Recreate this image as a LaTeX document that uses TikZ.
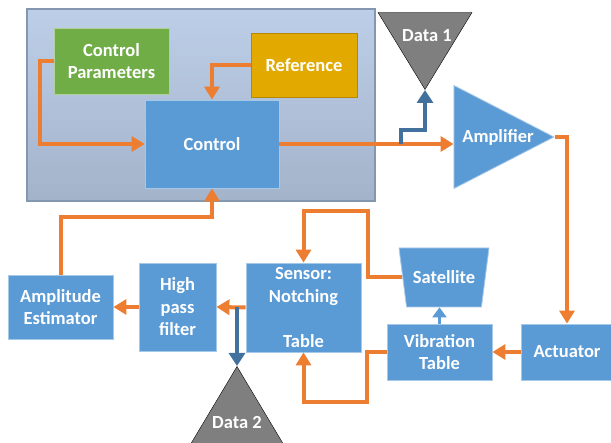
\documentclass[tikz,border=0pt]{standalone}
\usepackage{fontspec}
\setmainfont{Carlito}
\usepackage{tikz}
\usetikzlibrary{shapes.geometric}
\usetikzlibrary{arrows.meta}
\definecolor{boxblue}{HTML}{5B9BD5}
\definecolor{boxgreen}{HTML}{70AD47}
\definecolor{boxgold}{HTML}{E2AA00}
\definecolor{lineorange}{HTML}{ED7D31}
\definecolor{tapblue}{HTML}{41719C}
\definecolor{datagray}{HTML}{7F7F7F}
\definecolor{paneltop}{HTML}{BDCEE8}
\definecolor{panelbot}{HTML}{A3B3CA}
\definecolor{panelrim}{HTML}{8497B0}
\tikzstyle{blk}=[rectangle, draw=boxblue!55!white, line width=0.8pt, fill=boxblue, text=white, align=center, inner sep=0pt, font=\bfseries\fontsize{18.5}{22.5}\selectfont]
\tikzstyle{flow}=[draw=lineorange, line width=4pt, -{Triangle[length=13pt,width=15pt]}]
\tikzstyle{tap}=[draw=tapblue, line width=4pt, -{Triangle[length=13pt,width=16pt]}]
\tikzstyle{datatri}=[isosceles triangle, isosceles triangle stretches, draw=black, thin, fill=datagray, inner sep=0pt]
\tikzstyle{lbl}=[text=white, inner sep=0pt, font=\bfseries\fontsize{18.5}{22.5}\selectfont]

\begin{document}
\begin{tikzpicture}[x=1pt,y=-1pt]
    \useasboundingbox (0,0) rectangle (611,443);
    % Panel del controlador
    \node[draw=panelrim, line width=1.5pt, top color=paneltop, bottom color=panelbot, minimum width=348pt, minimum height=192pt, inner sep=0pt] (panel) at (201,105) {};
    % Bloques
    \node[blk, fill=boxgreen, draw=boxgreen!55!white, minimum width=115pt, minimum height=66pt] (cp) at (111.5,61) {Control\\Parameters};
    \node[blk, fill=boxgold, draw=boxgold!80!black, minimum width=106pt, minimum height=64pt] (ref) at (304,65) {Reference};
    \node[blk, minimum width=134pt, minimum height=88pt] (ctl) at (212,144) {Control};
    \node[isosceles triangle, isosceles triangle stretches, fill=boxblue, draw=boxblue!55!white, line width=0.8pt, minimum width=103pt, minimum height=100pt, inner sep=0pt, anchor=apex] (amp) at (555,137) {};
    \node[lbl] (amptxt) at (498,137) {Amplifier};
    \node[datatri, shape border rotate=270, minimum width=94pt, minimum height=77pt, anchor=apex] (d1) at (425,90) {};
    \node[lbl] (d1txt) at (427,36) {Data 1};
    \node[blk, minimum width=92pt, minimum height=56pt] (act) at (567,352) {Actuator};
    \node[blk, minimum width=105pt, minimum height=56pt] (vib) at (439.5,352) {Vibration\\Table};
    \node[blk, trapezium, trapezium left angle=60, trapezium right angle=60, trapezium stretches body, shape border rotate=180, minimum width=90pt, minimum height=59pt] (sat) at (444,277.5) {Satellite};
    \node[blk, minimum width=115pt, minimum height=89pt] (sen) at (303.5,307.5) {Sensor:\\Notching\\ \strut\\Table};
    \node[blk, minimum width=77pt, minimum height=88pt] (hpf) at (177.5,307) {High\\pass\\filter};
    \node[blk, minimum width=105pt, minimum height=64pt] (ae) at (60.5,307) {Amplitude\\Estimator};
    \node[datatri, shape border rotate=90, minimum width=92pt, minimum height=77pt, anchor=apex] (d2) at (237,366) {};
    \node[lbl] (d2txt) at (237,423) {Data 2};
    \coordinate (tap1) at (401,144);
    \coordinate (tap2) at (237,307.5);
    % Conexiones
    \draw[flow] (cp.west) -- ++(-14,0) |- (ctl.west);
    \draw[flow] (ref.west) -| (ctl.north);
    \draw[flow] (ctl.east) -- (amp.lower side |- ctl.east);
    \draw[tap] (tap1) -- ++(0,-14) -| (d1.apex);
    \draw[flow] (amp.apex) -| (act.north);
    \draw[flow] (act.west) -- (vib.east);
    \draw[draw=boxblue, line width=3pt, -{Triangle[length=10pt,width=14pt]}] (vib.north) -- (vib.north |- sat.south);
    \draw[flow] (sat.west) -- ++(-34,0) |- ([yshift=52pt]sen.north) -- (sen.north);
    \draw[flow] (vib.west) -- ++(-20,0) |- ([yshift=-50pt]sen.south) -- (sen.south);
    \draw[flow] (sen.west) -- (hpf.east);
    \draw[tap] (tap2) -- (d2.apex);
    \draw[flow] (hpf.west) -- (ae.east);
    \draw[flow] (ae.north) |- ([yshift=-29pt]ctl.south) -- (ctl.south);
\end{tikzpicture}
\end{document}
